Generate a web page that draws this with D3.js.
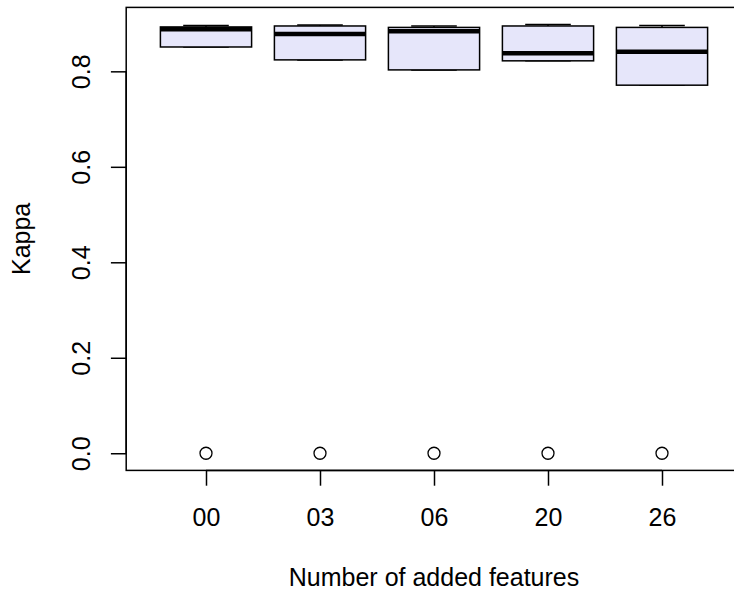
<!DOCTYPE html>
<html>
<head>
<meta charset="utf-8">
<script src="https://cdn.jsdelivr.net/npm/d3@7"></script>
<style>
  html, body { margin: 0; padding: 0; background: #fff; }
  svg { display: block; }
  text { font-family: "Liberation Sans", Arial, Helvetica, sans-serif; fill: #000; }
</style>
</head>
<body>
<div id="chart"></div>
<script>
// Boxplot stats, one entry per group.
const categories = ["00", "03", "06", "20", "26"];
const whiskerLow = [0.851, 0.824, 0.803, 0.822, 0.771];
const q1 = [0.851, 0.824, 0.803, 0.822, 0.771];
const median = [0.888, 0.878, 0.884, 0.838, 0.841];
const q3 = [0.893, 0.895, 0.892, 0.895, 0.892];
const whiskerHigh = [0.896, 0.897, 0.895, 0.898, 0.896];
const outliers = [0, 0, 0, 0, 0];
const yTicks = [0, 0.2, 0.4, 0.6, 0.8];

const width = 734, height = 593;
const plotLeft = 126.2, plotTop = 7.4, plotBottom = 470.4;
const unit = 114;  // pixels per group
const fontPx = "25px";

const svg = d3.select("#chart").append("svg")
  .attr("width", width).attr("height", height);

// R style: 0.5 .. n+0.5 widened by 4% each side.
const x = d3.scaleLinear()
  .domain([0.3, categories.length + 0.7])
  .range([plotLeft, plotLeft + unit * (categories.length + 0.4)]);
const ymax = d3.max(whiskerHigh), ymin = d3.min(outliers);
const pad = (ymax - ymin) * 0.04;
const y = d3.scaleLinear()
  .domain([ymin - pad, ymax + pad])
  .range([plotBottom, plotTop]);

const boxW = unit * 0.8;
const stapleW = boxW * 0.5;

const groups = categories.map((c, i) => ({
  c, pos: i + 1,
  lo: whiskerLow[i], q1: q1[i], med: median[i], q3: q3[i], hi: whiskerHigh[i],
  out: outliers[i]
}));

const g = svg.selectAll("g.box").data(groups).join("g").attr("class", "box");

// whiskers (dashed) and staples
g.append("line")
  .attr("x1", d => x(d.pos)).attr("x2", d => x(d.pos))
  .attr("y1", d => y(d.q3)).attr("y2", d => y(d.hi))
  .attr("stroke", "#000").attr("stroke-width", 1.5).attr("stroke-dasharray", "4,4");
g.append("line")
  .attr("x1", d => x(d.pos)).attr("x2", d => x(d.pos))
  .attr("y1", d => y(d.q1)).attr("y2", d => y(d.lo))
  .attr("stroke", "#000").attr("stroke-width", 1.5).attr("stroke-dasharray", "4,4");
for (const key of ["hi", "lo"]) {
  g.append("line")
    .attr("x1", d => x(d.pos) - stapleW / 2).attr("x2", d => x(d.pos) + stapleW / 2)
    .attr("y1", d => y(d[key])).attr("y2", d => y(d[key]))
    .attr("stroke", "#000").attr("stroke-width", 1.5);
}

g.append("rect")
  .attr("x", d => x(d.pos) - boxW / 2)
  .attr("width", boxW)
  .attr("y", d => y(d.q3))
  .attr("height", d => y(d.q1) - y(d.q3))
  .attr("fill", "#e6e6fa")
  .attr("stroke", "#000").attr("stroke-width", 1.5);

g.append("line")
  .attr("x1", d => x(d.pos) - boxW / 2).attr("x2", d => x(d.pos) + boxW / 2)
  .attr("y1", d => y(d.med)).attr("y2", d => y(d.med))
  .attr("stroke", "#000").attr("stroke-width", 4.5);

g.append("circle")
  .attr("cx", d => x(d.pos)).attr("cy", d => y(d.out))
  .attr("r", 6)
  .attr("fill", "none").attr("stroke", "#000").attr("stroke-width", 1.3);

// plot frame (right edge falls outside the picture)
svg.append("rect")
  .attr("x", plotLeft).attr("y", plotTop)
  .attr("width", x.range()[1] - plotLeft).attr("height", plotBottom - plotTop)
  .attr("fill", "none").attr("stroke", "#000").attr("stroke-width", 1.5);

// y axis
const yAxis = svg.append("g").attr("transform", `translate(${plotLeft},0)`)
  .call(d3.axisLeft(y).tickValues(yTicks).tickFormat(d3.format(".1f")).tickSize(15.3));
yAxis.select(".domain").remove();
yAxis.selectAll(".tick line").attr("stroke-width", 1.5);
yAxis.append("line")
  .attr("y1", y(yTicks[0])).attr("y2", y(yTicks[yTicks.length - 1]))
  .attr("stroke", "#000").attr("stroke-width", 1.5);
yAxis.selectAll(".tick text")
  .attr("x", 0).attr("dy", null)
  .attr("transform", "translate(-45,0) rotate(-90)")
  .attr("text-anchor", "middle").attr("dominant-baseline", "central")
  .style("font-size", fontPx);

// x axis
const xAxis = svg.append("g").attr("transform", `translate(0,${plotBottom})`)
  .call(d3.axisBottom(x).tickValues(groups.map(d => d.pos))
    .tickFormat((d, i) => categories[i]).tickSize(15.3));
xAxis.select(".domain").remove();
xAxis.selectAll(".tick line").attr("stroke-width", 1.5);
xAxis.append("line")
  .attr("x1", x(1)).attr("x2", x(categories.length))
  .attr("stroke", "#000").attr("stroke-width", 1.5);
xAxis.selectAll(".tick text")
  .attr("y", 46.5).attr("dy", null)
  .attr("dominant-baseline", "central")
  .style("font-size", fontPx);

svg.selectAll("g").attr("font-family", null).attr("font-size", null);

// axis titles
svg.append("text")
  .attr("x", x(3)).attr("y", 577)
  .attr("text-anchor", "middle").attr("dominant-baseline", "central")
  .style("font-size", fontPx)
  .text("Number of added features");
svg.append("text")
  .attr("transform", `translate(21,${(plotTop + plotBottom) / 2}) rotate(-90)`)
  .attr("text-anchor", "middle").attr("dominant-baseline", "central")
  .style("font-size", fontPx)
  .text("Kappa");
</script>
</body>
</html>
